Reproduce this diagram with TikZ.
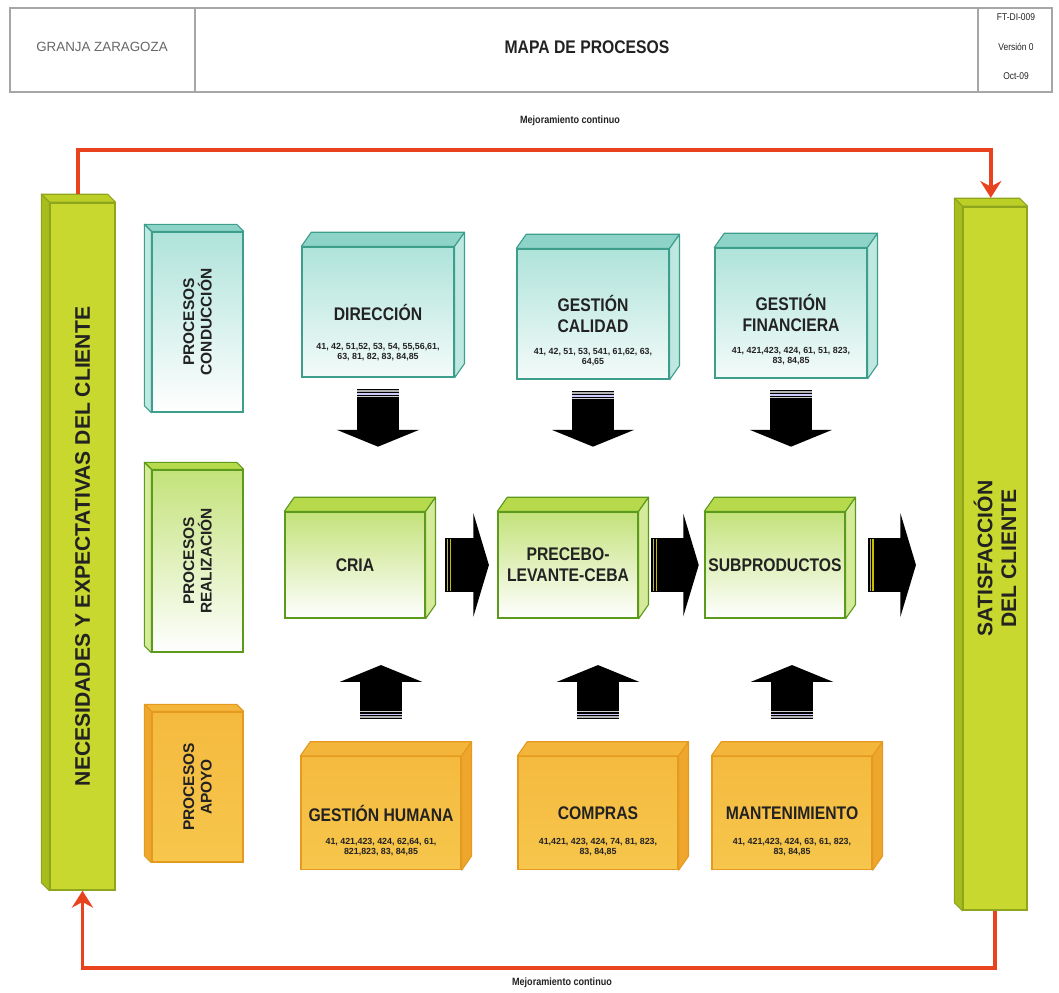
\documentclass[tikz,border=0pt]{standalone}
\usepackage{fontspec}
\setmainfont{Liberation Sans}
\newfontfamily\angosta{Liberation Sans}[FakeStretch=0.86]
\usetikzlibrary{arrows.meta,positioning,calc}

\definecolor{texto}{HTML}{222222}
\definecolor{bordeverdeazul}{HTML}{3E9E8C}
\definecolor{verdeazulclaro}{HTML}{AFE3DA}
\definecolor{verdeazultapa}{HTML}{8ED3C7}
\definecolor{verdeazullado}{HTML}{BFE8E1}
\definecolor{bordeverde}{HTML}{5C9A1C}
\definecolor{verdeclaro}{HTML}{C3E27A}
\definecolor{verdetapa}{HTML}{B7DA4C}
\definecolor{verdelado}{HTML}{D5EB9A}
\definecolor{bordenaranja}{HTML}{E49A1E}
\definecolor{naranja}{HTML}{F7C64C}
\definecolor{naranjatapa}{HTML}{F3B53A}
\definecolor{naranjalado}{HTML}{EFA62C}
\definecolor{barra}{HTML}{C8D82E}
\definecolor{barratapa}{HTML}{BCCF26}
\definecolor{barralado}{HTML}{A8BC1E}
\definecolor{bordebarra}{HTML}{8FA51E}
\definecolor{rojolazo}{HTML}{E8431E}

% caras de la caja hacia arriba-derecha / arriba-izquierda
\newcommand{\relieveder}[5]{%
  \filldraw[fill=#2, draw=#4, line width=0.8pt, line join=round]
    (#1.north west) -- ++(#5) -- ([shift={(#5)}]#1.north east) -- (#1.north east) -- cycle;
  \filldraw[fill=#3, draw=#4, line width=0.8pt, line join=round]
    (#1.north east) -- ++(#5) -- ([shift={(#5)}]#1.south east) -- (#1.south east) -- cycle;
}
\newcommand{\relieveizq}[5]{%
  \filldraw[fill=#2, draw=#4, line width=0.8pt, line join=round]
    (#1.north east) -- ++(#5) -- ([shift={(#5)}]#1.north west) -- (#1.north west) -- cycle;
  \filldraw[fill=#3, draw=#4, line width=0.8pt, line join=round]
    (#1.north west) -- ++(#5) -- ([shift={(#5)}]#1.south west) -- (#1.south west) -- cycle;
}

\tikzset{
  caja/.style={draw, line width=0.9pt, align=center, text=texto, inner sep=2pt,
    font=\angosta\bfseries\fontsize{13}{15}\selectfont},
  conduccion/.style={caja, draw=bordeverdeazul, top color=verdeazulclaro, bottom color=verdeazulclaro!15},
  realizacion/.style={caja, draw=bordeverde, top color=verdeclaro, bottom color=white},
  apoyo/.style={caja, draw=bordenaranja, top color=naranjatapa!70!naranja, bottom color=naranja},
  fila arriba/.style={minimum width=3.8cm, minimum height=3.25cm},
  fila medio/.style={minimum width=3.5cm, minimum height=2.65cm},
  fila abajo/.style={minimum width=4cm, minimum height=2.825cm},
  categoria/.style={minimum width=2.275cm},
  barracliente/.style={draw=bordebarra, line width=0.9pt, fill=barra},
  numeros/.style={font=\bfseries\fontsize{6.3}{7.2}\selectfont, text=texto, align=center, inner sep=0pt},
  rotulo/.style={font=\bfseries\fontsize{11}{12.5}\selectfont, text=texto, align=center, rotate=90},
  lema/.style={font=\angosta\bfseries\fontsize{7.5}{9}\selectfont, text=texto},
  dato/.style={font=\angosta\fontsize{7}{8}\selectfont, text=texto},
  bajada/.style={black, line width=29.9pt, -{Triangle[width=58.3pt, length=12pt]}},
  avance/.style={black, line width=37.7pt, -{Triangle[width=73pt, length=11pt]}},
  raya/.style={line width=1pt},
  mejora/.style={rojolazo, line width=2.8pt, -{Stealth[width=15pt, length=12pt, inset=4pt]}},
}

\begin{document}
\begin{tikzpicture}[x=0.025cm, y=-0.025cm]
\useasboundingbox (0,0) rectangle (1059,993);

% encabezado
\draw[gray!70, line width=1.4pt] (10,8) rectangle (1052,92);
\draw[gray!70, line width=1pt] (195,8) -- (195,92) (978,8) -- (978,92);
\node[font=\fontsize{9.5}{10}\selectfont, text=gray!80!black] (granja) at (102,47) {GRANJA ZARAGOZA};
\node[font=\angosta\bfseries\fontsize{13}{15}\selectfont, text=texto] (titulo) at (587,47) {MAPA DE PROCESOS};
\node[dato] (codigo) at (1016,17) {FT-DI-009};
\node[dato] (version) at (1016,47) {Versión 0};
\node[dato] (fecha) at (1016,76) {Oct-09};

% barras del cliente
\node[barracliente, minimum width=1.625cm, minimum height=17.175cm,
  label={[rotulo, font=\bfseries\fontsize{15}{17}\selectfont]center:{NECESIDADES Y EXPECTATIVAS DEL CLIENTE}}]
  (necesidades) at (82.5,546.5) {};
\relieveizq{necesidades}{barratapa}{barralado}{bordebarra}{-5.7pt,5.7pt}
\node[barracliente, minimum width=1.6cm, minimum height=17.575cm,
  label={[rotulo, font=\bfseries\fontsize{15}{17}\selectfont]center:{SATISFACCIÓN\\DEL CLIENTE}}]
  (satisfaccion) at (995,558.5) {};
\relieveizq{satisfaccion}{barratapa}{barralado}{bordebarra}{-5.7pt,5.7pt}

% tipos de proceso
\node[conduccion, categoria, bottom color=white, minimum height=4.5cm,
  label={[rotulo]center:{PROCESOS\\CONDUCCIÓN}}] (cat conduccion) at (197.5,322) {};
\relieveizq{cat conduccion}{verdeazultapa}{verdeazullado}{bordeverdeazul}{-5pt,5pt}
\node[realizacion, categoria, minimum height=4.55cm,
  label={[rotulo]center:{PROCESOS\\REALIZACIÓN}}] (cat realizacion) at (197.5,561) {};
\relieveizq{cat realizacion}{verdetapa}{verdelado}{bordeverde}{-5pt,5pt}
\node[apoyo, categoria, minimum height=3.75cm,
  label={[rotulo]center:{PROCESOS\\APOYO}}] (cat apoyo) at (197.5,787) {};
\relieveizq{cat apoyo}{naranjatapa}{naranjalado}{bordenaranja}{-5pt,5pt}

% procesos de conduccion
\node[conduccion, fila arriba] (direccion) at (378,312) {DIRECCIÓN};
\relieveder{direccion}{verdeazultapa}{verdeazullado}{bordeverdeazul}{7pt,10pt}
\node[numeros, below=22pt of direccion.center] (direccion num) {41, 42, 51,52, 53, 54, 55,56,61,\\63, 81, 82, 83, 84,85};
\node[conduccion, fila arriba] (calidad) at (593,314) {GESTIÓN\\CALIDAD};
\relieveder{calidad}{verdeazultapa}{verdeazullado}{bordeverdeazul}{7pt,10pt}
\node[numeros, below=24pt of calidad.center] (calidad num) {41, 42, 51, 53, 541, 61,62, 63,\\64,65};
\node[conduccion, fila arriba] (financiera) at (791,313) {GESTIÓN\\FINANCIERA};
\relieveder{financiera}{verdeazultapa}{verdeazullado}{bordeverdeazul}{7pt,10pt}
\node[numeros, below=24pt of financiera.center] (financiera num) {41, 421,423, 424, 61, 51, 823,\\83, 84,85};

% procesos de realizacion
\node[realizacion, fila medio] (cria) at (355,565) {CRIA};
\relieveder{cria}{verdetapa}{verdelado}{bordeverde}{7pt,10pt}
\node[realizacion, fila medio] (precebo) at (568,565) {PRECEBO-\\LEVANTE-CEBA};
\relieveder{precebo}{verdetapa}{verdelado}{bordeverde}{7pt,10pt}
\node[realizacion, fila medio] (subproductos) at (775,565) {SUBPRODUCTOS};
\relieveder{subproductos}{verdetapa}{verdelado}{bordeverde}{7pt,10pt}

% procesos de apoyo
\node[apoyo, fila abajo] (humana) at (381,813) {GESTIÓN HUMANA};
\relieveder{humana}{naranjatapa}{naranjalado}{bordenaranja}{7pt,10pt}
\node[numeros, below=18pt of humana.center] (humana num) {41, 421,423, 424, 62,64, 61,\\821,823, 83, 84,85};
\node[apoyo, fila abajo] (compras) at (598,813) {COMPRAS};
\relieveder{compras}{naranjatapa}{naranjalado}{bordenaranja}{7pt,10pt}
\node[numeros, below=18pt of compras.center] (compras num) {41,421, 423, 424, 74, 81, 823,\\83, 84,85};
\node[apoyo, fila abajo] (mantenimiento) at (792,813) {MANTENIMIENTO};
\relieveder{mantenimiento}{naranjatapa}{naranjalado}{bordenaranja}{7pt,10pt}
\node[numeros, below=18pt of mantenimiento.center] (mantenimiento num) {41, 421,423, 424, 63, 61, 823,\\83, 84,85};

% flechas hacia abajo
\coordinate (direccion sale) at ([yshift=-8pt]direccion.south);
\coordinate (calidad sale) at ([yshift=-8pt]calidad.south);
\coordinate (financiera sale) at ([yshift=-8pt]financiera.south);
\draw[bajada] (direccion sale) -- ($(direccion.south |- cria.north)+(0,46pt)$);
\draw[bajada] (calidad sale) -- ($(calidad.south |- precebo.north)+(0,46pt)$);
\draw[bajada] (financiera sale) -- ($(financiera.south |- subproductos.north)+(0,46pt)$);
\draw[raya, gray!60] ([shift={(-14.9pt,-1.5pt)}]direccion sale) -- ++(29.8pt,0);
\draw[raya, white!80!blue] ([shift={(-14.9pt,-3.5pt)}]direccion sale) -- ++(29.8pt,0);
\draw[raya, gray!40] ([shift={(-14.9pt,-5.5pt)}]direccion sale) -- ++(29.8pt,0);
\draw[raya, gray!60] ([shift={(-14.9pt,-1.5pt)}]calidad sale) -- ++(29.8pt,0);
\draw[raya, white!80!blue] ([shift={(-14.9pt,-3.5pt)}]calidad sale) -- ++(29.8pt,0);
\draw[raya, gray!40] ([shift={(-14.9pt,-5.5pt)}]calidad sale) -- ++(29.8pt,0);
\draw[raya, gray!60] ([shift={(-14.9pt,-1.5pt)}]financiera sale) -- ++(29.8pt,0);
\draw[raya, white!80!blue] ([shift={(-14.9pt,-3.5pt)}]financiera sale) -- ++(29.8pt,0);
\draw[raya, gray!40] ([shift={(-14.9pt,-5.5pt)}]financiera sale) -- ++(29.8pt,0);

% flechas de la cadena
\coordinate (cria sale) at ([xshift=14pt]cria.east);
\coordinate (precebo sale) at ([xshift=9pt]precebo.east);
\coordinate (subproductos sale) at ([xshift=16pt]subproductos.east);
\draw[avance] (cria sale) -- ([xshift=-6pt]precebo.west);
\draw[avance] (precebo sale) -- ([xshift=-4pt]subproductos.west);
\draw[avance] (subproductos sale) -- ($(subproductos.east -| satisfaccion.west)+(-33pt,0)$);
\draw[raya, olive!60] ([shift={(1.5pt,-18.8pt)}]cria sale) -- ++(0,37.6pt);
\draw[raya, yellow!50!olive] ([shift={(3.5pt,-18.8pt)}]cria sale) -- ++(0,37.6pt);
\draw[raya, olive!60] ([shift={(1.5pt,-18.8pt)}]precebo sale) -- ++(0,37.6pt);
\draw[raya, yellow!50!olive] ([shift={(3.5pt,-18.8pt)}]precebo sale) -- ++(0,37.6pt);
\draw[raya, olive!60] ([shift={(1.5pt,-18.8pt)}]subproductos sale) -- ++(0,37.6pt);
\draw[raya, yellow!50!olive] ([shift={(3.5pt,-18.8pt)}]subproductos sale) -- ++(0,37.6pt);

% flechas hacia arriba
\coordinate (humana sale) at ([yshift=26pt]humana.north);
\coordinate (compras sale) at ([yshift=26pt]compras.north);
\coordinate (mantenimiento sale) at ([yshift=26pt]mantenimiento.north);
\draw[bajada] (humana sale) -- ($(humana.north |- cria.south)+(0,-33pt)$);
\draw[bajada] (compras sale) -- ($(compras.north |- precebo.south)+(0,-33pt)$);
\draw[bajada] (mantenimiento sale) -- ($(mantenimiento.north |- subproductos.south)+(0,-33pt)$);
\draw[raya, gray!60] ([shift={(-14.9pt,1.5pt)}]humana sale) -- ++(29.8pt,0);
\draw[raya, white!80!blue] ([shift={(-14.9pt,3.5pt)}]humana sale) -- ++(29.8pt,0);
\draw[raya, gray!40] ([shift={(-14.9pt,5.5pt)}]humana sale) -- ++(29.8pt,0);
\draw[raya, gray!60] ([shift={(-14.9pt,1.5pt)}]compras sale) -- ++(29.8pt,0);
\draw[raya, white!80!blue] ([shift={(-14.9pt,3.5pt)}]compras sale) -- ++(29.8pt,0);
\draw[raya, gray!40] ([shift={(-14.9pt,5.5pt)}]compras sale) -- ++(29.8pt,0);
\draw[raya, gray!60] ([shift={(-14.9pt,1.5pt)}]mantenimiento sale) -- ++(29.8pt,0);
\draw[raya, white!80!blue] ([shift={(-14.9pt,3.5pt)}]mantenimiento sale) -- ++(29.8pt,0);
\draw[raya, gray!40] ([shift={(-14.9pt,5.5pt)}]mantenimiento sale) -- ++(29.8pt,0);

% lazo de mejoramiento
\coordinate (lazo arriba) at (530,150);
\coordinate (lazo abajo) at (530,968);
\coordinate (necesidades tapa) at ([shift={(-3pt,6pt)}]necesidades.north);
\coordinate (satisfaccion tapa) at ([shift={(-3pt,6pt)}]satisfaccion.north);
\draw[mejora] (necesidades tapa) -- (necesidades tapa |- lazo arriba) -| (satisfaccion tapa);
\draw[mejora] (satisfaccion.south) -- (satisfaccion.south |- lazo abajo) -| (necesidades.south);
\node[lema] (mejora arriba) at (570,121) {Mejoramiento continuo};
\node[lema] (mejora abajo) at (562,983) {Mejoramiento continuo};
\end{tikzpicture}
\end{document}
